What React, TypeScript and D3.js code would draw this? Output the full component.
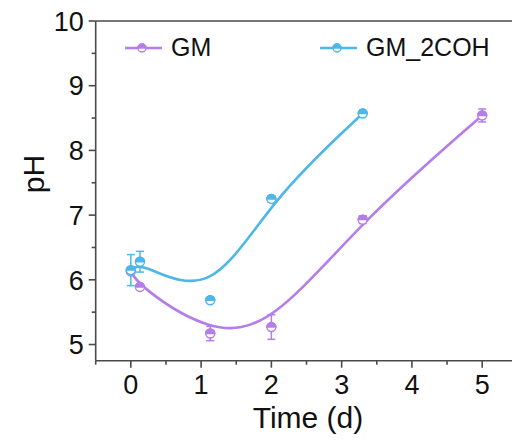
import React from "react";
import * as d3 from "d3";

const gmX = [0, 0.13, 1.13, 2.0, 3.3, 5.0];
const gmY = [6.13, 5.89, 5.17, 5.27, 6.93, 8.54];
const gmErr = [0, 0.04, 0.11, 0.19, 0.06, 0.1];

const cohX = [0, 0.13, 1.13, 2.0, 3.3];
const cohY = [6.15, 6.28, 5.685, 7.25, 8.57];
const cohErr = [0.24, 0.16, 0.03, 0.05, 0.03];

const xTicks = [0, 1, 2, 3, 4, 5];
const yTicks = [5, 6, 7, 8, 9, 10];
const seriesNames = ["GM", "GM_2COH"];
const colors = ["#B57DEB", "#4DB6EA"];

const W = 512, H = 443;
const left = 95.7, top = 21, bottom = 360.7;
const pxPerX = 70.27;
const x = d3.scaleLinear().domain([-0.5, 5.5]).range([left, left + 6 * pxPerX]);
const y = d3.scaleLinear().domain([4.75, 10]).range([bottom, top]);
const axisColor = "#4a4a4a";
const font = "'Liberation Sans', Arial, sans-serif";

function Marker({ cx, cy, color, r = 4.5 }: { cx: number; cy: number; color: string; r?: number }) {
  const half = `M${cx - r},${cy} A${r},${r} 0 0 1 ${cx + r},${cy} Z`;
  return (
    <g>
      <circle cx={cx} cy={cy} r={r} fill="#fff" stroke={color} strokeWidth={1.4} />
      <path d={half} fill={color} stroke={color} strokeWidth={1.4} />
    </g>
  );
}

function Series({ xs, ys, errs, color }: { xs: number[]; ys: number[]; errs: number[]; color: string }) {
  const pts: [number, number][] = xs.map((v, i) => [x(v), y(ys[i])]);
  const line = d3.line().curve(d3.curveBasis)(pts) || "";
  return (
    <g>
      <path d={line} fill="none" stroke={color} strokeWidth={2.6} />
      {xs.map((v, i) => {
        const cx = x(v);
        const e = errs[i];
        if (e <= 0) return null;
        const y1 = y(ys[i] + e), y2 = y(ys[i] - e);
        return (
          <g key={"e" + i} stroke={color} strokeWidth={1.5}>
            <line x1={cx} x2={cx} y1={y1} y2={y2} />
            <line x1={cx - 4} x2={cx + 4} y1={y1} y2={y1} />
            <line x1={cx - 4} x2={cx + 4} y1={y2} y2={y2} />
          </g>
        );
      })}
      {xs.map((v, i) => (
        <Marker key={"m" + i} cx={x(v)} cy={y(ys[i])} color={color} />
      ))}
    </g>
  );
}

export default function App() {
  const xMinor = d3.range(-0.5, 5.6, 0.5).filter((v) => Math.abs(v - Math.round(v)) > 0.01);
  const yMinor = d3.range(4.5, 10, 0.5).filter((v) => Math.abs(v - Math.round(v)) > 0.01 && v > 4.75);
  return (
    <svg width={W} height={H} style={{ position: "absolute", left: 0, top: 0, background: "#fff" }} fontFamily={font}>
      <rect width={W} height={H} fill="#fff" />
      <g stroke={axisColor} strokeWidth={1.6} fill="none">
        <line x1={left} x2={left} y1={top} y2={bottom} />
        <line x1={left} x2={W} y1={bottom} y2={bottom} />
        <line x1={left} x2={W} y1={top} y2={top} />
        {yTicks.map((t) => (
          <line key={"yt" + t} x1={left - 7} x2={left} y1={y(t)} y2={y(t)} />
        ))}
        {yMinor.map((t) => (
          <line key={"ym" + t} x1={left - 4} x2={left} y1={y(t)} y2={y(t)} />
        ))}
        {xTicks.map((t) => (
          <line key={"xt" + t} x1={x(t)} x2={x(t)} y1={bottom} y2={bottom + 7} />
        ))}
        {xMinor.map((t) => (
          <line key={"xm" + t} x1={x(t)} x2={x(t)} y1={bottom} y2={bottom + 4} />
        ))}
      </g>
      <g fontSize={27} fill="#111">
        {yTicks.map((t) => (
          <text key={"yl" + t} x={left - 12} y={y(t)} dy="0.36em" textAnchor="end">
            {t}
          </text>
        ))}
        {xTicks.map((t) => (
          <text key={"xl" + t} x={x(t)} y={394} textAnchor="middle">
            {t}
          </text>
        ))}
      </g>
      <text x={308} y={428} fontSize={30} textAnchor="middle" fill="#111">
        Time (d)
      </text>
      <text transform={`translate(44,${174}) rotate(-90)`} fontSize={30} textAnchor="middle" fill="#111">
        pH
      </text>
      <Series xs={gmX} ys={gmY} errs={gmErr} color={colors[0]} />
      <Series xs={cohX} ys={cohY} errs={cohErr} color={colors[1]} />
      {[
        { x0: 125, name: seriesNames[0], color: colors[0] },
        { x0: 320, name: seriesNames[1], color: colors[1] },
      ].map((l) => (
        <g key={l.name}>
          <line x1={l.x0} x2={l.x0 + 37} y1={48} y2={48} stroke={l.color} strokeWidth={2.6} />
          <Marker cx={l.x0 + 17} cy={48} color={l.color} r={4} />
          <text x={l.x0 + 46} y={56} fontSize={25} fill="#111">
            {l.name}
          </text>
        </g>
      ))}
    </svg>
  );
}
